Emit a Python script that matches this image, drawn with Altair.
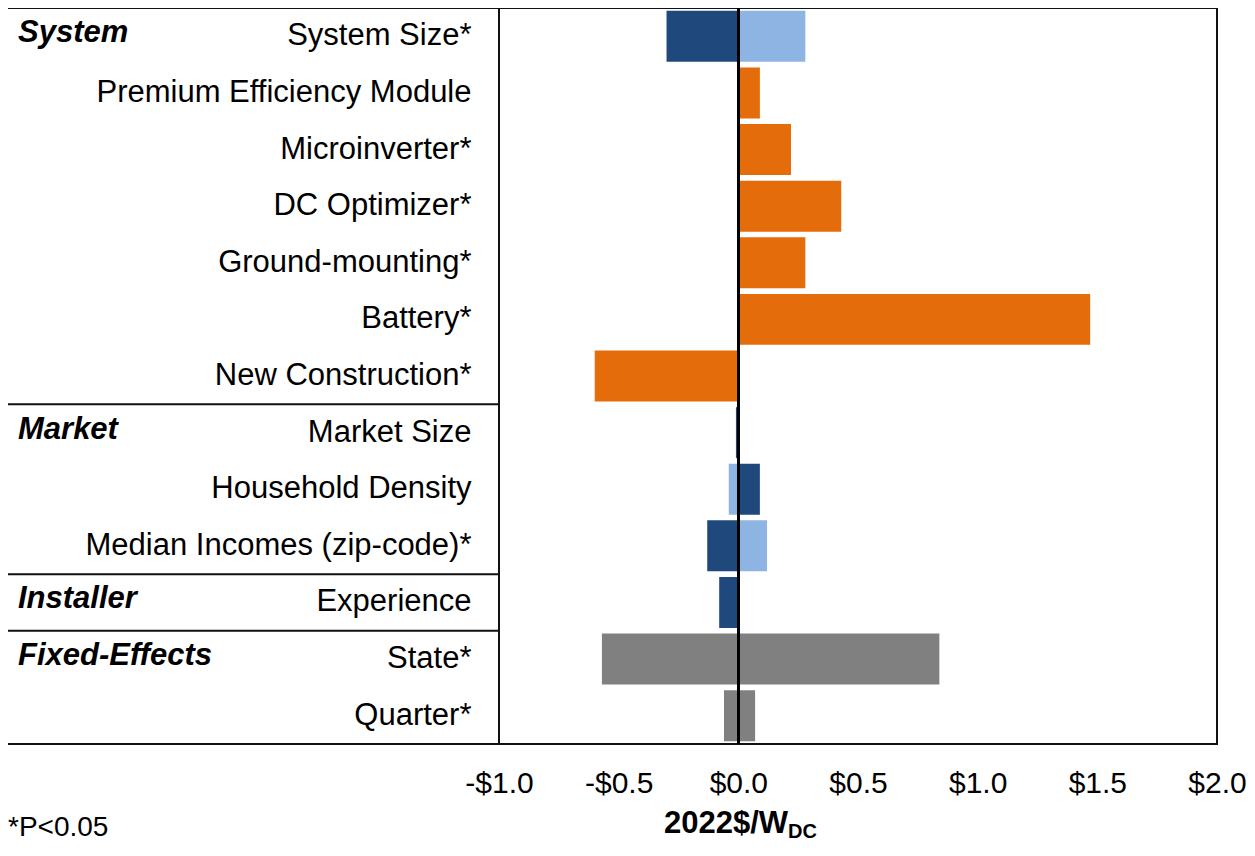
import altair as alt
import pandas as pd

# ---- data ----
labels = ["System Size*", "Premium Efficiency Module", "Microinverter*", "DC Optimizer*",
          "Ground-mounting*", "Battery*", "New Construction*", "Market Size",
          "Household Density", "Median Incomes (zip-code)*", "Experience", "State*", "Quarter*"]

groups = ["System", "Market", "Installer", "Fixed-Effects"]
group_rows = ["System Size*", "Market Size", "Experience", "State*"]

bar_rows = ["System Size*", "System Size*", "Premium Efficiency Module", "Microinverter*",
            "DC Optimizer*", "Ground-mounting*", "Battery*", "New Construction*",
            "Market Size", "Household Density", "Household Density",
            "Median Incomes (zip-code)*", "Median Incomes (zip-code)*", "Experience",
            "State*", "Quarter*"]
bar_low = [-0.30, 0.0, 0.0, 0.0, 0.0, 0.0, 0.0, -0.60, -0.01, -0.04, 0.0, -0.13, 0.0, -0.08, -0.57, -0.06]
bar_high = [0.0, 0.28, 0.09, 0.22, 0.43, 0.28, 1.47, 0.0, 0.0, 0.0, 0.09, 0.0, 0.12, 0.0, 0.84, 0.07]
bar_kind = ["dark", "light", "orange", "orange", "orange", "orange", "orange", "orange",
            "dark", "light", "dark", "dark", "light", "dark", "gray", "gray"]

kinds = ["dark", "light", "orange", "gray"]
kind_colors = ["#1F497D", "#8DB4E2", "#E46C0A", "#808080"]

x_ticks = [-1.0, -0.5, 0.0, 0.5, 1.0, 1.5, 2.0]
axis_title_main = ["2022$/W"]
axis_title_sub = ["DC"]
note = ["*P<0.05"]
bottom_row = ["Quarter*"]

FONT = "Liberation Sans"
W, H = 718, 736
FS = 31

bars_df = pd.DataFrame({"row": bar_rows, "low": bar_low, "high": bar_high, "kind": bar_kind})
groups_df = pd.DataFrame({"row": group_rows, "group": groups})
bottom_df = pd.DataFrame({"row": bottom_row})

yscale = alt.Scale(domain=labels, paddingInner=0, paddingOuter=0)
xscale = alt.Scale(domain=[-1, 2], nice=False, zero=False)

yaxis = alt.Axis(title=None, labelFontSize=FS, labelPadding=28, ticks=False,
                 domain=False, grid=False, labelLimit=700, labelColor="black", labelFont=FONT)

label_expr = ("datum.value < 0 ? '-$' + format(abs(datum.value), '.1f') : "
              "'$' + format(datum.value, '.1f')")
xaxis = alt.Axis(values=x_ticks, labelExpr=label_expr, labelFontSize=30,
                 labelPadding=24, ticks=False, domain=False, grid=False,
                 title=None, labelColor="black", labelFlush=False, labelFont=FONT)

bars = alt.Chart(bars_df).mark_bar(height=alt.RelativeBandSize(0.9)).encode(
    y=alt.Y("row:N", scale=yscale, sort=labels, axis=yaxis),
    x=alt.X("low:Q", scale=xscale, axis=xaxis),
    x2="high:Q",
    color=alt.Color("kind:N", scale=alt.Scale(domain=kinds, range=kind_colors), legend=None),
)

zero = alt.Chart(bars_df).mark_rule(color="black", strokeWidth=2.5).encode(
    x=alt.datum(0, scale=xscale, axis=xaxis))

group_text = alt.Chart(groups_df).mark_text(
    align="left", baseline="middle", fontSize=FS, fontWeight="bold", fontStyle="italic",
    font=FONT, color="black", dy=-3
).encode(
    x=alt.value(-481),
    y=alt.Y("row:N", scale=yscale, sort=labels, axis=yaxis),
    text="group:N",
)

sep_top = alt.Chart(groups_df).mark_rule(color="#111111", strokeWidth=2).encode(
    x=alt.value(-491), x2=alt.value(0),
    y=alt.Y("row:N", scale=yscale, sort=labels, axis=yaxis, bandPosition=0),
)

sep_bottom = alt.Chart(bottom_df).mark_rule(color="#111111", strokeWidth=2).encode(
    x=alt.value(-491), x2=alt.value(0),
    y=alt.Y("row:N", scale=yscale, sort=labels, axis=yaxis, bandPosition=1),
)

title_main = alt.Chart(pd.DataFrame({"t": axis_title_main})).mark_text(
    align="right", baseline="alphabetic", fontSize=FS, fontWeight="bold", font=FONT, color="black"
).encode(x=alt.value(289), y=alt.value(825), text="t:N")

title_sub = alt.Chart(pd.DataFrame({"t": axis_title_sub})).mark_text(
    align="left", baseline="alphabetic", fontSize=20, fontWeight="bold", font=FONT, color="black"
).encode(x=alt.value(289), y=alt.value(830), text="t:N")

note_text = alt.Chart(pd.DataFrame({"t": note})).mark_text(
    align="left", baseline="alphabetic", fontSize=28, font=FONT, color="black"
).encode(x=alt.value(-491), y=alt.value(828), text="t:N")

chart = alt.layer(
    bars, zero, group_text, sep_top, sep_bottom, title_main, title_sub, note_text
).properties(
    width=W, height=H,
    autosize=alt.AutoSizeParams(type="none"),
    padding={"left": 491, "top": 0, "right": 30, "bottom": 98},
).configure(
    font=FONT
).configure_view(
    stroke="#111111", strokeWidth=2
)

chart.save("out.html", embed_options={"renderer": "svg", "actions": False})
